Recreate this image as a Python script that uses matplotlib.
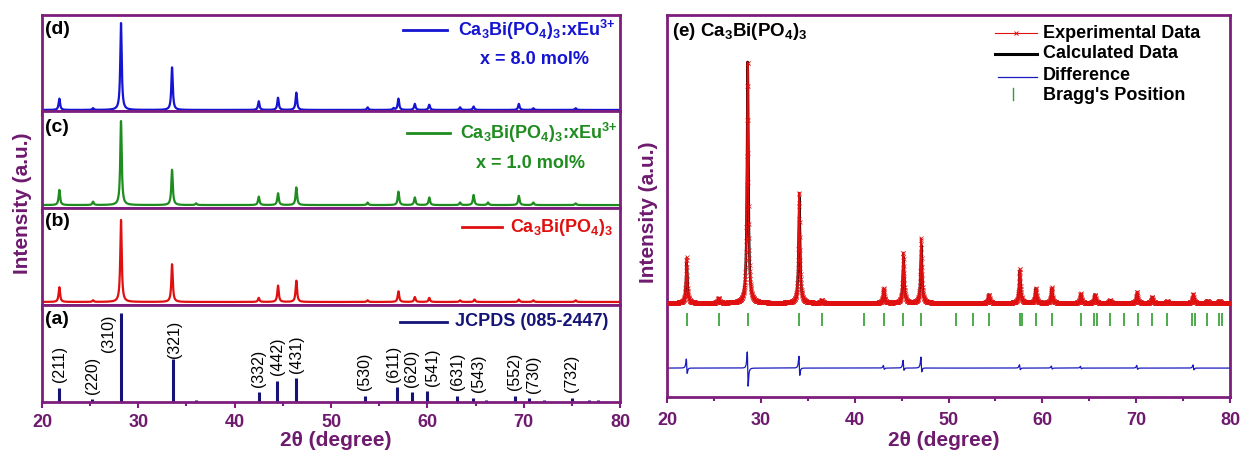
import numpy as np
import matplotlib.pyplot as plt
from matplotlib.lines import Line2D
from matplotlib.ticker import MultipleLocator

plt.rcParams['font.family'] = ['Liberation Sans', 'DejaVu Sans']
plt.rcParams['mathtext.fontset'] = 'custom'
plt.rcParams['mathtext.rm'] = 'Liberation Sans'
plt.rcParams['mathtext.bf'] = 'Liberation Sans:bold'
plt.rcParams['mathtext.it'] = 'Liberation Sans:italic'

# ---- data: peak positions (2theta) and relative heights ----
# (d) x = 8.0 mol%
d_pos = [21.8, 25.3, 28.2, 33.5, 42.5, 44.5, 46.4, 53.8, 56.5, 57.0, 58.7, 60.2, 63.4, 64.8, 69.5, 71.0, 75.4]
d_hgt = [0.13, 0.02, 1.00, 0.49, 0.10, 0.14, 0.20, 0.03, 0.02, 0.13, 0.07, 0.06, 0.03, 0.04, 0.07, 0.02, 0.02]
# (c) x = 1.0 mol%
c_pos = [21.8, 25.3, 28.2, 33.5, 36.0, 42.5, 44.5, 46.4, 53.8, 57.0, 58.7, 60.2, 63.4, 64.8, 66.3, 69.5, 71.0, 75.4]
c_hgt = [0.18, 0.04, 1.00, 0.42, 0.02, 0.10, 0.14, 0.21, 0.03, 0.16, 0.09, 0.09, 0.03, 0.12, 0.03, 0.11, 0.03, 0.02]
# (b) Ca3Bi(PO4)3
b_pos = [21.8, 25.3, 28.2, 33.5, 42.5, 44.5, 46.4, 53.8, 57.0, 58.7, 60.2, 63.4, 64.9, 69.5, 71.0, 75.4]
b_hgt = [0.18, 0.02, 1.00, 0.46, 0.05, 0.20, 0.26, 0.02, 0.13, 0.06, 0.05, 0.02, 0.03, 0.03, 0.02, 0.02]
# (a) JCPDS 085-2447 sticks
jc_pos = [21.8, 25.2, 28.2, 33.6, 36.0, 42.5, 44.4, 46.4, 53.5, 56.9, 58.4, 60.0, 63.1, 64.7, 66.1, 69.1, 70.6, 72.1, 75.0, 76.8, 77.7]
jc_hgt = [0.16, 0.035, 1.00, 0.48, 0.02, 0.11, 0.24, 0.27, 0.07, 0.17, 0.11, 0.12, 0.07, 0.05, 0.02, 0.07, 0.04, 0.02, 0.05, 0.02, 0.02]
jc_hkl = ['(211)', '(220)', '(310)', '(321)', '', '(332)', '(442)', '(431)', '(530)', '(611)', '(620)', '(541)',
          '(631)', '(543)', '', '(552)', '(730)', '', '(732)', '', '']

# (e) Rietveld refinement
e_pos = [22.1, 25.5, 28.6, 34.1, 36.5, 43.1, 45.2, 47.1, 54.3, 57.6, 59.3, 61.0, 64.1, 65.6, 67.2, 70.1, 71.7, 73.3, 76.1, 77.6, 78.9]
e_hgt = [0.167, 0.02, 1.00, 0.44, 0.012, 0.055, 0.19, 0.24, 0.035, 0.135, 0.06, 0.06, 0.035, 0.035, 0.012, 0.04, 0.025, 0.008, 0.03, 0.01, 0.01]
diff_pos = [22.1, 28.6, 34.1, 43.1, 45.2, 47.1, 57.6, 61.0, 64.1, 70.1, 76.1]
diff_anti = [0.03, 0.072, 0.04, 0.008, 0.02, 0.03, 0.01, 0.006, 0.005, 0.008, 0.01]
diff_sym = [0.01, -0.005, 0.012, 0.004, 0.015, 0.02, 0.005, 0.003, 0.003, 0.004, 0.004]
bragg = [22.1, 25.5, 28.6, 34.1, 36.5, 41.0, 43.1, 45.2, 47.1, 50.8, 52.6, 54.3, 57.6, 57.8, 59.3, 61.0,
         64.1, 65.5, 65.8, 67.2, 68.7, 70.2, 71.7, 73.3, 76.0, 76.25, 77.6, 78.8, 79.1]


def pattern(x, pos, hgt, w):
    y = np.zeros_like(x)
    for p, h in zip(pos, hgt):
        y += h / (1 + ((x - p) / w) ** 2)
    return y


def difference(x, pos, anti, sym, w):
    y = np.zeros_like(x)
    for p, a, s in zip(pos, anti, sym):
        u = (x - p) / w
        y += a * (-u) / (1 + u ** 2) ** 2 / 0.325 + s / (1 + u ** 2)
    return y


W, H = 1241, 454
fig = plt.figure(figsize=(W / 100, H / 100), dpi=100)


def fx(px):
    return px / W


def fy(py):
    return 1 - py / H


purple = '#7D1E7D'
lab_purple = '#6E1A6E'
blue = '#1414D2'
green = '#1E8C1E'
red = '#E01010'
navy = '#141478'
bgreen = '#2E9E2E'


def style(ax, bottom_labels, pad):
    for s in ax.spines.values():
        s.set_color(purple)
        s.set_linewidth(2.0)
    ax.set_xlim(20, 80)
    ax.xaxis.set_major_locator(MultipleLocator(10))
    ax.xaxis.set_minor_locator(MultipleLocator(5))
    ax.tick_params(axis='x', which='major', direction='out', length=4.5, width=1.5,
                   color=purple, labelcolor=lab_purple, labelsize=13, pad=pad,
                   labelbottom=bottom_labels)
    ax.tick_params(axis='x', which='minor', direction='out', length=3, width=1.5, color=purple)
    ax.set_yticks([])
    for t in ax.get_xticklabels():
        t.set_fontweight('bold')


x = np.linspace(20, 80, 6001)

# ---- left: stacked patterns ----
edges = [15, 111, 208, 305, 402]
axes = []
for i in range(4):
    ax = fig.add_axes([fx(42), fy(edges[i + 1]), (620 - 42) / W, (edges[i + 1] - edges[i]) / H])
    axes.append(ax)
ax_d, ax_c, ax_b, ax_a = axes

ax_d.plot(x, pattern(x, d_pos, d_hgt, 0.09), color=blue, lw=1.6)
ax_d.set_ylim(-0.012, 1.093)
ax_c.plot(x, pattern(x, c_pos, c_hgt, 0.09), color=green, lw=1.6)
ax_c.set_ylim(-0.035, 1.12)
ax_b.plot(x, pattern(x, b_pos, b_hgt, 0.09), color=red, lw=1.6)
ax_b.set_ylim(-0.037, 1.146)
ax_a.vlines(jc_pos, 0, jc_hgt, color=navy, lw=2.2)
ax_a.set_ylim(0, 1.09)

label_shift = {'(310)': (-1.25, -0.50), '(611)': (-0.4, 0.0), '(541)': (0.5, 0.0),
               '(543)': (0.6, 0.0), '(730)': (0.4, 0.0), '(321)': (0.15, -0.04)}
for p, h, lab in zip(jc_pos, jc_hgt, jc_hkl):
    if not lab:
        continue
    dx, dy = label_shift.get(lab, (0.0, 0.0))
    ax_a.text(p + dx, h + 0.06 + dy, lab, rotation=90, ha='center', va='bottom', fontsize=11.5)

for ax in axes:
    style(ax, ax is ax_a, 4)

for lab, py in zip(['(d)', '(c)', '(b)', '(a)'], [30, 127, 222, 320]):
    fig.text(fx(45), fy(py), lab, fontsize=14, fontweight='bold', va='center', ha='left')

chem = r'Ca$_\mathbf{3}$Bi(PO$_\mathbf{4}$)$_\mathbf{3}$'
eu = chem + r':xEu$^\mathbf{3{+}}$'
leg_left = [(403, 447, 30, 458, eu, blue, 'x = 8.0 mol%', 535, 60),
            (407, 450, 133, 460, eu, green, 'x = 1.0 mol%', 531, 163),
            (462, 502, 227, 510, chem, red, None, 0, 0),
            (400, 447, 322, 455, 'JCPDS (085-2447)', navy, None, 0, 0)]
for x0, x1, yy, tx, txt, col, sub, sx, sy in leg_left:
    fig.add_artist(Line2D([fx(x0), fx(x1)], [fy(yy), fy(yy)], color=col, lw=2.0))
    fig.text(fx(tx), fy(yy), txt, color=col, fontsize=13, fontweight='bold', va='center', ha='left')
    if sub:
        fig.text(fx(sx), fy(sy), sub, color=col, fontsize=13, fontweight='bold', va='center', ha='center')

fig.text(fx(22), fy(203), 'Intensity (a.u.)', rotation=90, color=lab_purple, fontsize=15,
         fontweight='bold', ha='center', va='center')
fig.text(fx(336), fy(440), '2θ (degree)', color=lab_purple, fontsize=15, fontweight='bold',
         ha='center', va='center')

# ---- right: Rietveld refinement ----
ax_e = fig.add_axes([fx(667), fy(397), (1230 - 667) / W, (397 - 15) / H])
xe = np.linspace(20, 80, 3001)
calc = pattern(xe, e_pos, e_hgt, 0.09)
diff = difference(xe, diff_pos, diff_anti, diff_sym, 0.08)
obs = calc + diff
ax_e.plot(xe, calc, color='black', lw=1.8, zorder=2)
ax_e.plot(xe, obs, color=red, lw=1.2, marker='x', markersize=2.2, markeredgewidth=0.5, zorder=3)
ax_e.plot(xe, diff - 0.27, color='#1A1AC0', lw=0.9)
ax_e.vlines(bragg, -0.095, -0.041, color=bgreen, lw=1.2)
ax_e.set_ylim(-0.39, 1.195)
style(ax_e, True, 6)

fig.text(fx(672), fy(32), '(e) ' + chem, fontsize=13.5, fontweight='bold', va='center', ha='left')

fig.add_artist(Line2D([fx(995), fx(1037)], [fy(33), fy(33)], color=red, lw=0.8))
fig.add_artist(Line2D([fx(1016)], [fy(33)], color=red, marker='x', markersize=3, markeredgewidth=0.7))
fig.add_artist(Line2D([fx(995), fx(1037)], [fy(54), fy(54)], color='black', lw=2.2))
fig.add_artist(Line2D([fx(998), fx(1037)], [fy(77), fy(77)], color='#1A1AC0', lw=0.9))
fig.add_artist(Line2D([fx(1013), fx(1013)], [fy(88), fy(100)], color=bgreen, lw=1.0))
for txt, py in zip(['Experimental Data', 'Calculated Data', 'Difference', "Bragg's Position"],
                   [33, 54, 76, 95]):
    fig.text(fx(1043), fy(py), txt, fontsize=13, fontweight='bold', va='center', ha='left')

fig.text(fx(648), fy(212), 'Intensity (a.u.)', rotation=90, color=lab_purple, fontsize=15,
         fontweight='bold', ha='center', va='center')
fig.text(fx(944), fy(441), '2θ (degree)', color=lab_purple, fontsize=15, fontweight='bold',
         ha='center', va='center')

fig.savefig('out.png', dpi=100)
